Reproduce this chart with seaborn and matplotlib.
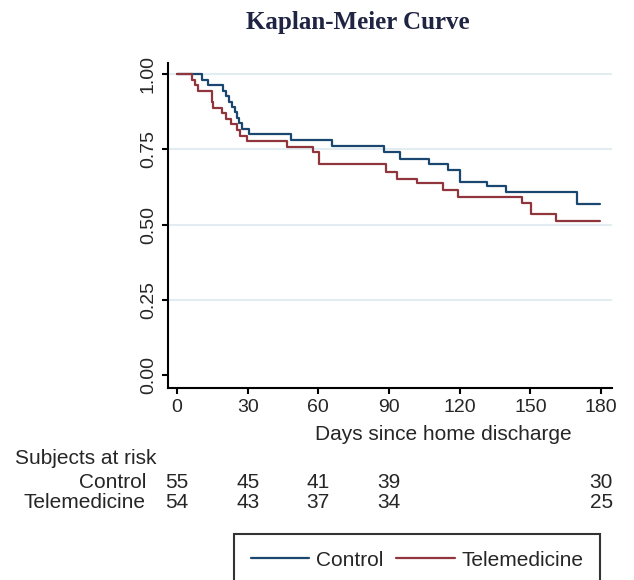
import numpy as np
import pandas as pd
import matplotlib
matplotlib.use('Agg')
import matplotlib.pyplot as plt
import matplotlib.transforms as mtransforms
import seaborn as sns

# step points (day, survival)
control_days = [0, 10.5, 13.3, 19.4, 21.0, 22.0, 23.2, 24.6, 25.6, 26.5, 27.5, 30.7,
                48.3, 66.0, 88.0, 94.7, 107.0, 115.0, 120.0, 131.5, 139.8, 169.8, 179.6]
control_surv = [1.0, 0.982, 0.964, 0.945, 0.927, 0.909, 0.891, 0.873, 0.855, 0.836, 0.818, 0.800,
                0.780, 0.762, 0.742, 0.717, 0.703, 0.681, 0.642, 0.628, 0.608, 0.570, 0.570]

tele_days = [0, 6.4, 7.6, 9.1, 14.7, 15.4, 19.0, 21.0, 23.1, 25.6, 26.7, 29.8,
             46.7, 57.8, 60.3, 88.8, 93.2, 102.0, 113.0, 119.4, 146.4, 150.3, 160.8, 179.6]
tele_surv = [1.0, 0.981, 0.963, 0.944, 0.907, 0.889, 0.870, 0.852, 0.833, 0.815, 0.796, 0.778,
             0.759, 0.741, 0.700, 0.676, 0.651, 0.637, 0.615, 0.592, 0.572, 0.535, 0.512, 0.512]

# numbers at risk
risk_days = [0, 30, 60, 90, 180]
risk_control = [55, 45, 41, 39, 30]
risk_tele = [54, 43, 37, 34, 25]

groups = ['Control', 'Telemedicine']
colors = {'Control': '#1a476f', 'Telemedicine': '#90353b'}

df = pd.concat([
    pd.DataFrame({'day': control_days, 'surv': control_surv, 'group': 'Control'}),
    pd.DataFrame({'day': tele_days, 'surv': tele_surv, 'group': 'Telemedicine'}),
])

sns.set_style('white')
plt.rcParams['font.family'] = ['Liberation Sans', 'DejaVu Sans']

W, H = 634, 580
fs = 15
fig = plt.figure(figsize=(W / 100, H / 100), dpi=100)
ax = fig.add_axes([168 / W, 1 - 388 / H, 444 / W, 325 / H])

sns.lineplot(data=df, x='day', y='surv', hue='group', hue_order=groups, palette=colors,
             estimator=None, sort=False, drawstyle='steps-post', linewidth=1.6,
             legend=False, ax=ax)

ax.set_xlim(-3.8, 184.6)
ax.set_ylim(-0.043, 1.037)
ax.set_xticks([0, 30, 60, 90, 120, 150, 180])
ax.set_yticks([0, 0.25, 0.5, 0.75, 1.0])
ax.set_yticklabels(['0.00', '0.25', '0.50', '0.75', '1.00'])
ax.set_xlabel('')
ax.set_ylabel('')

for s in ['top', 'right']:
    ax.spines[s].set_visible(False)
for s in ['left', 'bottom']:
    ax.spines[s].set_color('black')
    ax.spines[s].set_linewidth(1.5)

ax.tick_params(axis='both', direction='out', length=4, width=1.5, color='black',
               labelsize=14, pad=4, left=True, bottom=True)
plt.setp(ax.get_yticklabels(), rotation=90, va='center')

ax.yaxis.grid(True, color='#e3edf1', linewidth=1.5)
ax.set_axisbelow(True)
ax.yaxis.get_gridlines()[0].set_visible(False)

fig.text(358 / W, 1 - 22 / H, 'Kaplan-Meier Curve', ha='center', va='center',
         family=['Liberation Serif', 'DejaVu Serif'], fontweight='bold', fontsize=18,
         color='#1f2442')

fig.text(443 / W, 1 - 434 / H, 'Days since home discharge', ha='center', va='center',
         fontsize=fs)

# risk table
fig.text(15 / W, 1 - 458 / H, 'Subjects at risk', ha='left', va='center', fontsize=fs)
fig.text(146 / W, 1 - 482 / H, 'Control', ha='right', va='center', fontsize=fs)
fig.text(146 / W, 1 - 502 / H, 'Telemedicine', ha='right', va='center', fontsize=fs)
trans = mtransforms.blended_transform_factory(ax.transData, fig.transFigure)
for d, c, t in zip(risk_days, risk_control, risk_tele):
    ax.text(d, 1 - 482 / H, str(c), transform=trans, ha='center', va='center', fontsize=fs)
    ax.text(d, 1 - 502 / H, str(t), transform=trans, ha='center', va='center', fontsize=fs)

leg = fig.legend(ax.lines[:2], groups, loc='upper left',
                 bbox_to_anchor=(234 / W, 1 - 534 / H), ncol=2, frameon=True,
                 fancybox=False, edgecolor='black', fontsize=fs, handlelength=2.8,
                 handletextpad=0.35, columnspacing=0.6, borderpad=0.8, borderaxespad=0)
leg.get_frame().set_linewidth(1.5)

fig.savefig('out.png', dpi=100)
